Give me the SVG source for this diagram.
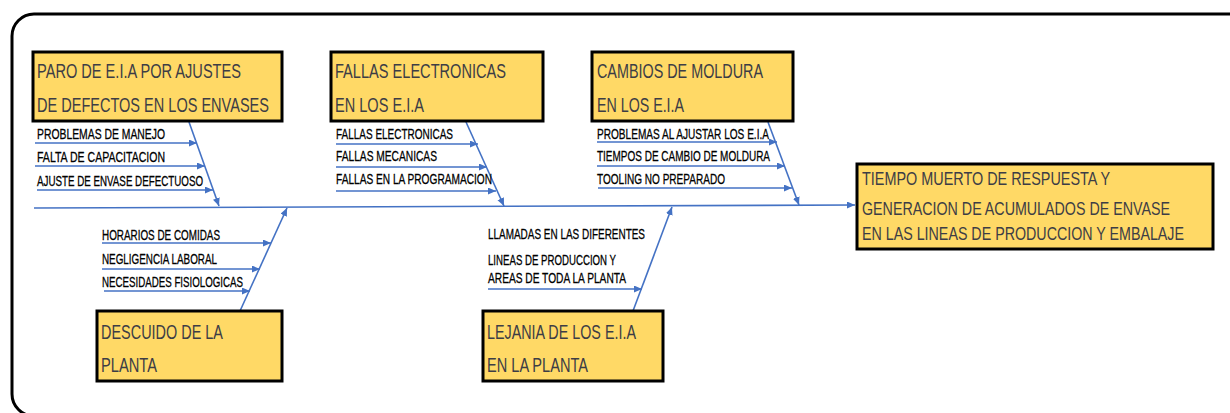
<svg xmlns="http://www.w3.org/2000/svg" width="1230" height="413" viewBox="0 0 1230 413">
<style>
.frame{fill:none;stroke:#000;stroke-width:3}
.box{fill:#FFD966;stroke:#000;stroke-width:3}
.bt{font-family:"Liberation Sans",Arial,sans-serif;font-size:20px;fill:#3d3d45}
.et{font-family:"Liberation Sans",Arial,sans-serif;font-size:19px;fill:#3d3d45}
.st{font-family:"Liberation Sans",Arial,sans-serif;font-size:15px;fill:#000;stroke:#000;stroke-width:0.3}
.ln{stroke:#4472C4;stroke-width:1.6;fill:none}
</style>
<defs>
<marker id="ah" markerUnits="userSpaceOnUse" markerWidth="9" markerHeight="8" refX="8" refY="3.5" orient="auto">
<path d="M0,0 L8,3.5 L0,7 z" fill="#4472C4"/>
</marker>
</defs>
<rect class="frame" x="12" y="14" width="1240" height="402" rx="22" ry="22"/>
<g id="connectors">
<line class="ln" x1="34" y1="208" x2="855" y2="205" marker-end="url(#ah)"/>
<line class="ln" x1="189" y1="122" x2="219" y2="206" marker-end="url(#ah)"/>
<line class="ln" x1="35" y1="143" x2="197" y2="143" marker-end="url(#ah)"/>
<line class="ln" x1="35" y1="166" x2="205" y2="166" marker-end="url(#ah)"/>
<line class="ln" x1="37" y1="190" x2="213" y2="190" marker-end="url(#ah)"/>
<line class="ln" x1="466" y1="122" x2="504" y2="206" marker-end="url(#ah)"/>
<line class="ln" x1="336" y1="144" x2="478" y2="144" marker-end="url(#ah)"/>
<line class="ln" x1="336" y1="167" x2="487" y2="167" marker-end="url(#ah)"/>
<line class="ln" x1="336" y1="191" x2="496" y2="191" marker-end="url(#ah)"/>
<line class="ln" x1="768" y1="122" x2="799" y2="205" marker-end="url(#ah)"/>
<line class="ln" x1="597" y1="142" x2="777" y2="142" marker-end="url(#ah)"/>
<line class="ln" x1="597" y1="166" x2="785" y2="166" marker-end="url(#ah)"/>
<line class="ln" x1="598" y1="188" x2="792" y2="188" marker-end="url(#ah)"/>
<line class="ln" x1="240" y1="311" x2="287" y2="208" marker-end="url(#ah)"/>
<line class="ln" x1="102" y1="243" x2="271" y2="243" marker-end="url(#ah)"/>
<line class="ln" x1="102" y1="269" x2="260" y2="269" marker-end="url(#ah)"/>
<line class="ln" x1="104" y1="291" x2="250" y2="291" marker-end="url(#ah)"/>
<line class="ln" x1="633" y1="311" x2="672" y2="207" marker-end="url(#ah)"/>
<line class="ln" x1="488" y1="289" x2="642" y2="289" marker-end="url(#ah)"/>
</g>
<g id="n1">
<rect class="box" x="33" y="52" width="249" height="69"/>
<text class="bt" x="37" y="78" textLength="204" lengthAdjust="spacingAndGlyphs">PARO DE E.I.A POR AJUSTES</text>
<text class="bt" x="37" y="112" textLength="232" lengthAdjust="spacingAndGlyphs">DE DEFECTOS EN LOS ENVASES</text>
<text class="st" x="37" y="139" textLength="128" lengthAdjust="spacingAndGlyphs">PROBLEMAS DE MANEJO</text>
<text class="st" x="37" y="162" textLength="128" lengthAdjust="spacingAndGlyphs">FALTA DE CAPACITACION</text>
<text class="st" x="37" y="186" textLength="166" lengthAdjust="spacingAndGlyphs">AJUSTE DE ENVASE DEFECTUOSO</text>
</g>
<g id="n2">
<rect class="box" x="331" y="52" width="212" height="69"/>
<text class="bt" x="335" y="78" textLength="171" lengthAdjust="spacingAndGlyphs">FALLAS ELECTRONICAS</text>
<text class="bt" x="335" y="112" textLength="89" lengthAdjust="spacingAndGlyphs">EN LOS E.I.A</text>
<text class="st" x="336" y="139" textLength="117" lengthAdjust="spacingAndGlyphs">FALLAS ELECTRONICAS</text>
<text class="st" x="336" y="161" textLength="101" lengthAdjust="spacingAndGlyphs">FALLAS MECANICAS</text>
<text class="st" x="336" y="184" textLength="156" lengthAdjust="spacingAndGlyphs">FALLAS EN LA PROGRAMACION</text>
</g>
<g id="n3">
<rect class="box" x="592" y="52" width="201" height="69"/>
<text class="bt" x="597" y="78" textLength="166" lengthAdjust="spacingAndGlyphs">CAMBIOS DE MOLDURA</text>
<text class="bt" x="597" y="112" textLength="87" lengthAdjust="spacingAndGlyphs">EN LOS E.I.A</text>
<text class="st" x="597" y="139" textLength="172" lengthAdjust="spacingAndGlyphs">PROBLEMAS AL AJUSTAR LOS E.I.A</text>
<text class="st" x="597" y="161" textLength="173" lengthAdjust="spacingAndGlyphs">TIEMPOS DE CAMBIO DE MOLDURA</text>
<text class="st" x="597" y="184" textLength="128" lengthAdjust="spacingAndGlyphs">TOOLING NO PREPARADO</text>
</g>
<g id="effect">
<rect class="box" x="857" y="164" width="356" height="85"/>
<text class="et" x="862" y="185" textLength="248" lengthAdjust="spacingAndGlyphs">TIEMPO MUERTO DE RESPUESTA Y</text>
<text class="et" x="862" y="215" textLength="308" lengthAdjust="spacingAndGlyphs">GENERACION DE ACUMULADOS DE ENVASE</text>
<text class="et" x="862" y="240" textLength="322" lengthAdjust="spacingAndGlyphs">EN LAS LINEAS DE PRODUCCION Y EMBALAJE</text>
</g>
<g id="n4">
<rect class="box" x="97" y="311" width="185" height="70"/>
<text class="bt" x="101" y="339" textLength="122" lengthAdjust="spacingAndGlyphs">DESCUIDO DE LA</text>
<text class="bt" x="101" y="372" textLength="56" lengthAdjust="spacingAndGlyphs">PLANTA</text>
<text class="st" x="102" y="240" textLength="118" lengthAdjust="spacingAndGlyphs">HORARIOS DE COMIDAS</text>
<text class="st" x="102" y="264" textLength="115" lengthAdjust="spacingAndGlyphs">NEGLIGENCIA LABORAL</text>
<text class="st" x="102" y="287" textLength="141" lengthAdjust="spacingAndGlyphs">NECESIDADES FISIOLOGICAS</text>
</g>
<g id="n5">
<rect class="box" x="483" y="311" width="180" height="70"/>
<text class="bt" x="487" y="339" textLength="149" lengthAdjust="spacingAndGlyphs">LEJANIA DE LOS E.I.A</text>
<text class="bt" x="487" y="372" textLength="101" lengthAdjust="spacingAndGlyphs">EN LA PLANTA</text>
<text class="st" x="488" y="239" textLength="157" lengthAdjust="spacingAndGlyphs">LLAMADAS EN LAS DIFERENTES</text>
<text class="st" x="488" y="265" textLength="128" lengthAdjust="spacingAndGlyphs">LINEAS DE PRODUCCION Y</text>
<text class="st" x="488" y="283" textLength="138" lengthAdjust="spacingAndGlyphs">AREAS DE TODA LA PLANTA</text>
</g>
</svg>
